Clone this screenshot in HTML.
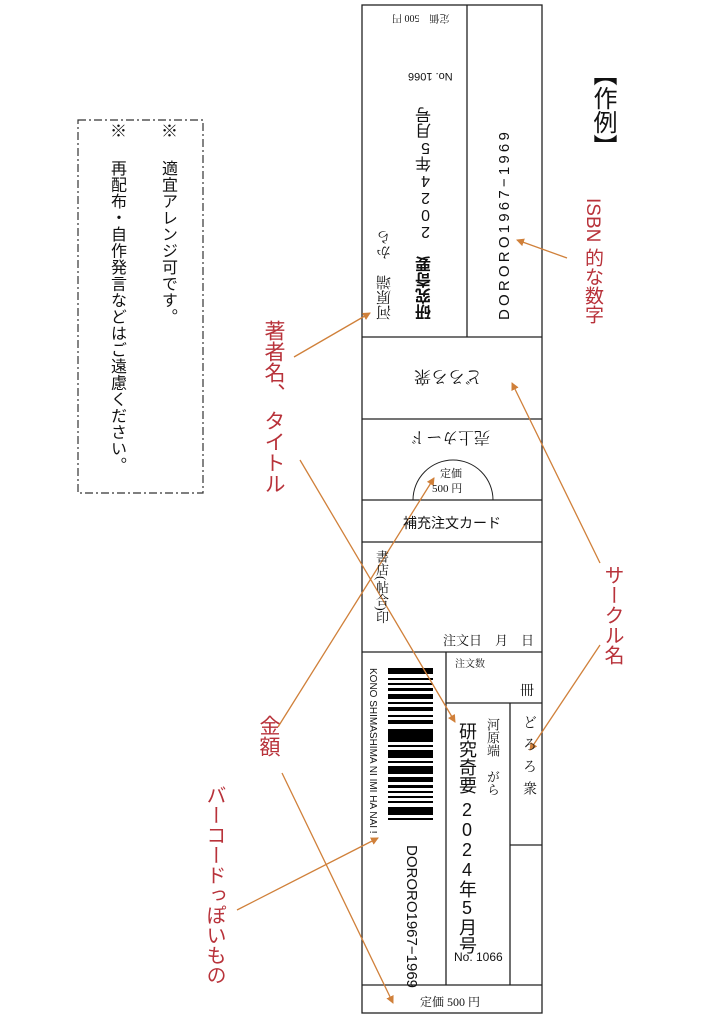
<!DOCTYPE html>
<html><head><meta charset="utf-8"><style>
body{margin:0;width:724px;height:1024px;background:#fff;position:relative;overflow:hidden;font-family:"Liberation Serif","Noto Serif CJK SC",serif;color:#111}
.a{position:absolute;white-space:nowrap}
.v{writing-mode:vertical-rl}
.r180{transform:rotate(180deg)}
.red{color:#b8323a;font-family:"Liberation Sans","Noto Sans CJK JP",sans-serif}
.g{font-family:"Liberation Sans","Noto Sans CJK JP",sans-serif}
.up{text-orientation:upright}
</style></head><body>
<svg class="a" style="left:0;top:0" width="724" height="1024">
<g fill="none" stroke="#222" stroke-width="1.3">
<rect x="362" y="5" width="180" height="1008"/>
<line x1="467" y1="5" x2="467" y2="337"/>
<line x1="362" y1="337" x2="542" y2="337"/>
<line x1="362" y1="419" x2="542" y2="419"/>
<line x1="362" y1="500" x2="542" y2="500"/>
<line x1="362" y1="542" x2="542" y2="542"/>
<line x1="362" y1="652" x2="542" y2="652"/>
<line x1="446" y1="652" x2="446" y2="985"/>
<line x1="446" y1="703" x2="542" y2="703"/>
<line x1="510" y1="703" x2="510" y2="985"/>
<line x1="510" y1="845" x2="542" y2="845"/>
<line x1="362" y1="985" x2="542" y2="985"/>
<path d="M413 500 A40 40 0 0 1 493 500" stroke-width="1"/>
</g>
<rect x="78" y="120" width="125" height="373" fill="none" stroke="#333" stroke-width="1.2" stroke-dasharray="8,3,2,3"/>
<g fill="#000">
<rect x="388" y="668" width="45" height="6"/><rect x="388" y="678" width="45" height="2"/><rect x="388" y="683" width="45" height="2"/><rect x="388" y="688" width="45" height="3"/><rect x="388" y="694" width="45" height="5"/><rect x="388" y="702" width="45" height="2"/><rect x="388" y="707" width="45" height="4"/><rect x="388" y="715" width="45" height="2"/><rect x="388" y="720" width="45" height="4"/><rect x="388" y="729" width="45" height="13"/><rect x="388" y="745" width="45" height="2"/><rect x="388" y="750" width="45" height="8"/><rect x="388" y="761" width="45" height="2"/><rect x="388" y="766" width="45" height="8"/><rect x="388" y="777" width="45" height="5"/><rect x="388" y="785" width="45" height="3"/><rect x="388" y="791" width="45" height="2"/><rect x="388" y="796" width="45" height="2"/><rect x="388" y="801" width="45" height="2"/><rect x="388" y="807" width="45" height="8"/><rect x="388" y="818" width="45" height="2"/>
</g>
<defs><marker id="m" markerWidth="8" markerHeight="8" refX="7" refY="4" orient="auto" markerUnits="userSpaceOnUse"><path d="M0 0L8 4L0 8z" fill="#d0803a"/></marker></defs>
<g stroke="#d0803a" stroke-width="1.3" marker-end="url(#m)">
<line x1="567" y1="258" x2="517" y2="240"/>
<line x1="294" y1="357" x2="370" y2="313"/>
<line x1="300" y1="460" x2="455" y2="722"/>
<line x1="600" y1="563" x2="512" y2="383"/>
<line x1="600" y1="645" x2="530" y2="750"/>
<line x1="278" y1="727" x2="434" y2="478"/>
<line x1="282" y1="773" x2="393" y2="1003"/>
<line x1="237" y1="910" x2="378" y2="838"/>
</g>
</svg>

<div class="a r180" style="left:392px;top:12px;font-size:10px;">定価　500 円</div>
<div class="a r180 g" style="left:408px;top:70px;font-size:11px;">No. 1066</div>
<div class="a v r180 g" style="left:414px;top:97px;font-size:16px;height:223px;font-weight:bold;">研究奇要　<span class="up" style="font-weight:normal">2024年5月号</span></div>
<div class="a v r180" style="left:374px;top:225px;font-size:15px;height:95px">河原端　から</div>
<div class="a v r180 g" style="left:496px;top:100px;font-size:15px;height:220px;letter-spacing:3.2px">DORORO1967−1969</div>
<div class="a r180" style="left:414px;top:366px;font-size:17px;">どろろ衆</div>
<div class="a r180" style="left:410px;top:427px;font-size:16px;">売上カード</div>
<div class="a" style="left:440px;top:465px;font-size:11px;">定価</div>
<div class="a" style="left:432px;top:480px;font-size:11px;">500 円</div>
<div class="a g" style="left:403px;top:513px;font-size:14px;">補充注文カード</div>
<div class="a v" style="left:372px;top:550px;font-size:13px;">書店(帖合)印</div>
<div class="a" style="left:443px;top:630px;font-size:13px;">注文日　月　日</div>
<div class="a" style="left:455px;top:655px;font-size:10px;">注文数</div>
<div class="a" style="left:520px;top:680px;font-size:14px;">冊</div>
<div class="a v g" style="left:367px;top:668px;font-size:10px;">KONO SHIMASHIMA NI IMI HA NAI !</div>
<div class="a v g" style="left:403px;top:845px;font-size:15px;">DORORO1967−1969</div>
<div class="a v" style="left:483px;top:718px;font-size:13px;">河原端　がら</div>
<div class="a v g" style="left:457px;top:722px;font-size:18px;line-height:20px">研究奇要</div>
<div class="a v g up" style="left:457px;top:800px;font-size:18px;line-height:20px">2024年5月号</div>
<div class="a g" style="left:454px;top:950px;font-size:12px;">No. 1066</div>
<div class="a v" style="left:518px;top:715px;font-size:14px;letter-spacing:8px">どろろ衆</div>
<div class="a" style="left:420px;top:993px;font-size:12px;">定価 500 円</div>

<div class="a v g" style="left:585px;top:62px;font-size:24px;">【作例】</div>
<div class="a v red" style="left:579px;top:198px;font-size:19px;">ISBN 的な数字</div>
<div class="a v red" style="left:258px;top:320px;font-size:21px;">著者名、</div>
<div class="a v red" style="left:258px;top:410px;font-size:21px;">タイトル</div>
<div class="a v red" style="left:598px;top:565px;font-size:20px;">サークル名</div>
<div class="a v red" style="left:253px;top:715px;font-size:21px;">金額</div>
<div class="a v red" style="left:200px;top:785px;font-size:20px;">バーコードっぽいもの</div>

<div class="a v g" style="left:155px;top:122px;font-size:17px;">※</div>
<div class="a v g" style="left:155px;top:160px;font-size:16px;letter-spacing:0.5px">適宜アレンジ可です。</div>
<div class="a v g" style="left:104px;top:122px;font-size:17px;">※</div>
<div class="a v g" style="left:104px;top:160px;font-size:16px;letter-spacing:0.5px">再配布・自作発言などはご遠慮ください。</div>
</body></html>
